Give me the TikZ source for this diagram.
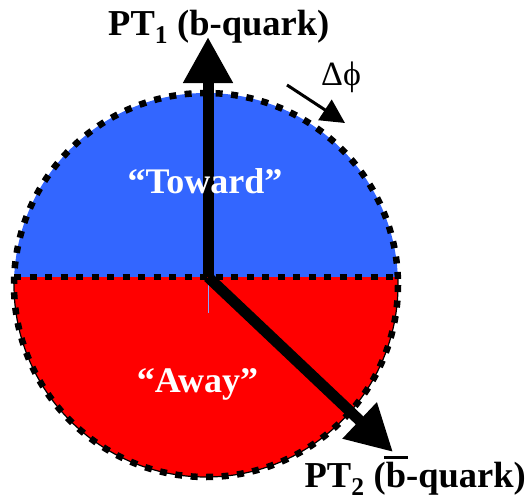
\documentclass[tikz,border=0pt]{standalone}
\usepackage{fontspec}
\setmainfont{Liberation Serif}
\usetikzlibrary{arrows.meta}
\definecolor{tblue}{HTML}{3366FF}
\definecolor{tred}{HTML}{FF0000}
\begin{document}
\begin{tikzpicture}[x=1pt,y=-1pt,
  lbl/.style={inner sep=0pt,font=\fontsize{36.5}{40}\selectfont\bfseries},
  region/.style={inner sep=0pt,text=white,font=\fontsize{36}{40}\selectfont\bfseries},
  dotsty/.style={line width=6.5pt,dash pattern=on 7pt off 8.5pt},
  bigarrow/.style={line width=11pt,-{Triangle[length=46pt,width=47pt]}},
  smallarrow/.style={line width=3pt,-{Triangle[length=24pt,width=24pt]}}]
\useasboundingbox (0,0) rectangle (529,495);
\coordinate (O) at (206,285);
\coordinate (L) at (14.2,277);
\coordinate (R) at (397.8,277);
\coordinate (C) at (208,277);
\coordinate (T1) at (208,37);
\coordinate (T2) at (393,452);
\coordinate (D1) at (287,85);
\coordinate (D2) at (345,123);
\begin{scope}
  \clip (O) circle (192);
  \fill[tblue] (0,0) rectangle (529,277);
  \fill[tred] (0,277) rectangle (529,495);
\end{scope}
\begin{scope}
  \clip (0,277) rectangle (529,495);
  \draw[line width=1.2pt] (O) circle (192);
\end{scope}
\draw[dotsty] (O) circle (192);
\draw[dotsty] (L) -- (R);
\draw[tblue!60,line width=1pt] (208,280) -- (208,313);
\draw[bigarrow] (C) -- (T1);
\draw[bigarrow] (C) -- (T2);
\draw[smallarrow] (D1) -- (D2);
\node[lbl,anchor=base west] (pt1) at (108,35) {PT\textsubscript{1} (b-quark)};
\node[lbl,anchor=base east] (pt2) at (526,487) {PT\textsubscript{2} (\makebox[0pt][l]{\hspace{-0.05em}\raisebox{0.78em}{\rule{0.66em}{0.08em}}}b-quark)};
\node[inner sep=0pt,anchor=base west,font=\fontsize{34}{38}\selectfont] (dphi) at (321,85) {Δϕ};
\node[region,anchor=base] (toward) at (205,193) {“Toward”};
\node[region,anchor=base] (away) at (197.5,392) {“Away”};
\end{tikzpicture}
\end{document}
